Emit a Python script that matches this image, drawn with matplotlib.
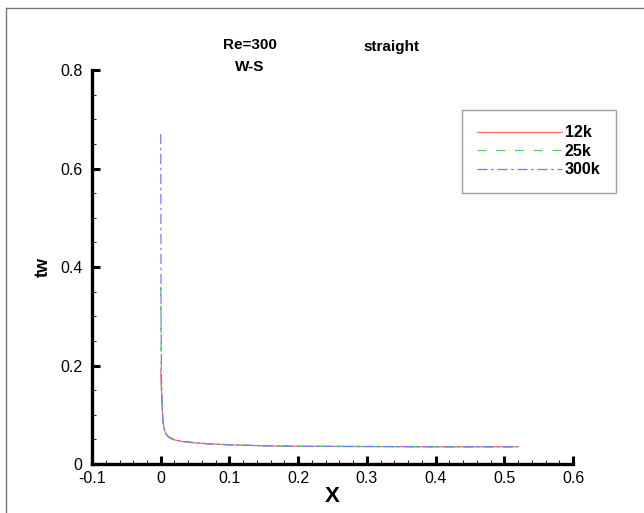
import numpy as np
import matplotlib
matplotlib.use("Agg")
import matplotlib.pyplot as plt
from matplotlib.lines import Line2D
from matplotlib.ticker import MultipleLocator

plt.rcParams["font.family"] = ["Liberation Sans", "DejaVu Sans"]

# wall shear stress along the straight channel, three mesh sizes
x_head = [0.0, 0.0005, 0.001]
x_tail = [0.002, 0.003, 0.005, 0.008, 0.012, 0.02, 0.03, 0.05, 0.07,
          0.1, 0.15, 0.2, 0.3, 0.4, 0.52]
tw_tail = [0.12, 0.09, 0.07, 0.06, 0.054, 0.049, 0.046, 0.043, 0.041,
           0.039, 0.037, 0.036, 0.0355, 0.035, 0.035]
tw_12k_head = [0.19, 0.17, 0.15]
tw_25k_head = [0.36, 0.22, 0.16]
tw_300k_head = [0.67, 0.30, 0.18]

labels = ["12k", "25k", "300k"]

x = np.array(x_head + x_tail)
series = [tw_12k_head + tw_tail, tw_25k_head + tw_tail, tw_300k_head + tw_tail]
colors = ["#ff6a6a", "#50d050", "#7878ff"]
styles = ["-", (0, (7, 8)), (0, (8, 3, 2, 3))]

fig = plt.figure(figsize=(6.44, 5.13), dpi=100)
ax = fig.add_axes([0.1429, 0.0955, 0.7469, 0.768])

for ys, c, ls, lab in zip(series, colors, styles, labels):
    ax.plot(x, ys, color=c, linestyle=ls, linewidth=0.9, label=lab)

ax.set_xlim(-0.1, 0.6)
ax.set_ylim(0, 0.8)
ax.xaxis.set_major_locator(MultipleLocator(0.1))
ax.xaxis.set_minor_locator(MultipleLocator(0.02))
ax.yaxis.set_major_locator(MultipleLocator(0.2))
ax.yaxis.set_minor_locator(MultipleLocator(0.05))
ax.xaxis.set_major_formatter(plt.FuncFormatter(lambda v, p: "%g" % round(v, 2)))
ax.yaxis.set_major_formatter(plt.FuncFormatter(lambda v, p: "%g" % round(v, 2)))

for s in ["top", "right"]:
    ax.spines[s].set_visible(False)
for s in ["left", "bottom"]:
    ax.spines[s].set_linewidth(2.4)

ax.tick_params(which="major", direction="in", length=6, width=2.2,
               labelsize=11.5)
ax.tick_params(axis="x", which="major", pad=5)
ax.tick_params(axis="y", which="major", pad=7)
ax.tick_params(which="minor", direction="in", length=3, width=0.6)

ax.set_xlabel("X", fontsize=16, fontweight="bold", labelpad=0)
ax.set_ylabel("tw", fontsize=13, fontweight="bold", labelpad=6)

leg = ax.legend(loc="upper left", bbox_to_anchor=(0.769, 0.898),
                borderaxespad=0, frameon=True, fancybox=False,
                edgecolor="#888888", handlelength=5.3, handletextpad=0.2,
                labelspacing=0.22, borderpad=0.95,
                prop={"weight": "bold", "size": 11.5})
leg.get_frame().set_linewidth(1.0)

fig.text(250 / 644, 1 - 45 / 513, "Re=300", ha="center", va="center",
         fontsize=11, fontweight="bold")
fig.text(250 / 644, 1 - 67 / 513, "W-S", ha="center", va="center",
         fontsize=11, fontweight="bold")
fig.text(391 / 644, 1 - 47 / 513, "straight", ha="center", va="center",
         fontsize=11, fontweight="bold")

# outer frame (left and top edges visible)
fig.add_artist(Line2D([6 / 644, 6 / 644], [0, 1 - 8 / 513],
                      transform=fig.transFigure, color="#777777", lw=1))
fig.add_artist(Line2D([6 / 644, 1], [1 - 8 / 513, 1 - 8 / 513],
                      transform=fig.transFigure, color="#777777", lw=1))

fig.savefig("out.png", dpi=100)
